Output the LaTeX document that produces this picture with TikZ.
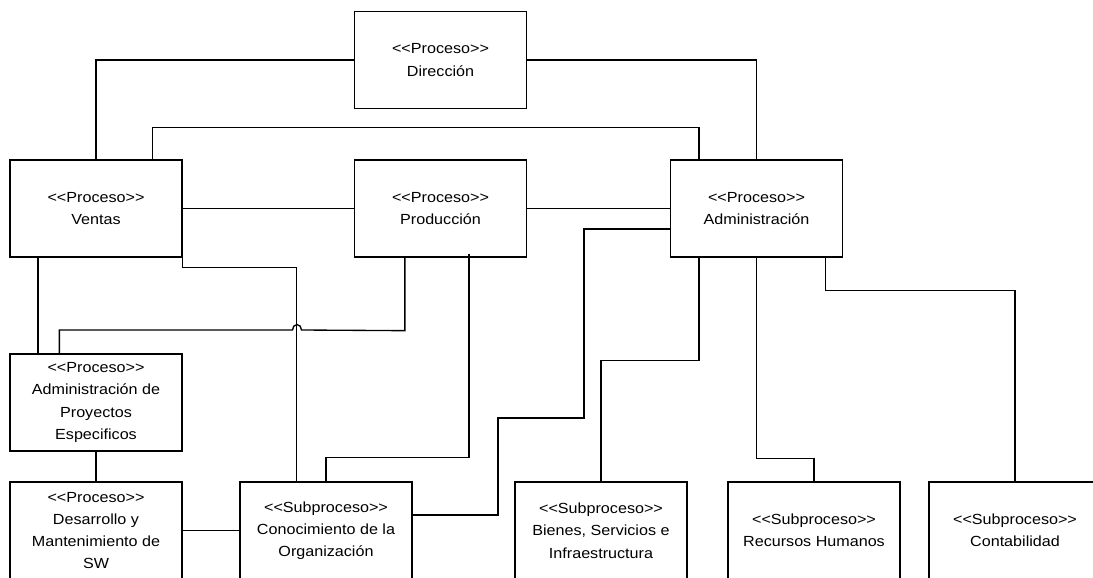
\documentclass[tikz,border=0pt]{standalone}
\usepackage{fontspec}
\newfontfamily\diagfont{Liberation Sans}[FakeStretch=1.1]
\usetikzlibrary{calc}
\newcommand\stereo[1]{\textless\textless #1\textgreater\textgreater}

\begin{document}
\begin{tikzpicture}[x=0.75pt,y=-0.75pt,
  box/.style={draw,line width=1pt,minimum width=129pt,minimum height=72.75pt,
    inner sep=0pt,align=center,font=\diagfont\fontsize{11}{16.7}\selectfont},
  link/.style={draw,line width=1pt}]
\clip (0,0) rectangle (1093,578);
\fill[white] (0,0) rectangle (1093,578);

% process boxes
\node[box] (direccion)  at (440.5,60)    {\stereo{Proceso}\\Dirección};
\node[box] (ventas)     at (96,208.5)    {\stereo{Proceso}\\Ventas};
\node[box] (produccion) at (440.5,208.5) {\stereo{Proceso}\\Producción};
\node[box] (admin)      at (756.5,208.5) {\stereo{Proceso}\\Administración};
\node[box] (ape)        at (96,402.5)    {\stereo{Proceso}\\Administración de\\Proyectos\\Especificos};
\node[box] (dms)        at (96,530.5)    {\stereo{Proceso}\\Desarrollo y\\Mantenimiento de\\SW};
% subprocess boxes
\node[box] (conoc)      at (326,530.5)   {\stereo{Subproceso}\\Conocimiento de la\\Organización};
\node[box] (bienes)     at (601,530.5)   {\stereo{Subproceso}\\Bienes, Servicios e\\Infraestructura};
\node[box] (rh)         at (814,530.5)   {\stereo{Subproceso}\\Recursos Humanos};
\node[box] (conta)      at (1015,530.5)  {\stereo{Subproceso}\\Contabilidad};

% connectors
\path[link] (ventas.north) |- (direccion.west);
\path[link] (direccion.east) -| (admin.north);
\path[link] ($(ventas.north west)+(143,0)$) |- ($(admin.north west)+(29,-32)$) -- ($(admin.north west)+(29,0)$);
\path[link] (ventas.east) -- (produccion.west);
\path[link] (produccion.east) -- (admin.west);
\path[link] ($(admin.west)+(0,20.5)$) -| (584,418) -| (498,515) -- ($(conoc.east)+(0,-15.5)$);
\path[link] ($(admin.south west)+(29,0)$) |- ($(bienes.north)+(0,-121)$) -- (bienes.north);
\path[link] (admin.south) |- ($(rh.north)+(0,-23)$) -- (rh.north);
\path[link] ($(admin.south east)+(-18,0)$) |- ($(conta.north)+(0,-191)$) -- (conta.north);
\path[link] ($(ventas.south east)+(0,-13)$) |- ($(conoc.north west)+(57,-214)$) -- ($(conoc.north west)+(57,0)$);
\path[link] ($(ventas.south west)+(28.6,0)$) -- ($(ape.north west)+(28.6,0)$);
\path[link] ($(ape.north west)+(50,0)$) |- (292.5,330)
  arc[start angle=180,end angle=360,x radius=4.5,y radius=5.5]
  -- ($(produccion.south west)+(51,73)$) -- ($(produccion.south west)+(51,0)$);
\path[link] ($(produccion.south west)+(115,-4)$) |- ($(conoc.north)+(0,-24)$) -- (conoc.north);
\path[link] (ape.south) -- (dms.north);
\path[link] (dms.east) -- (conoc.west);
\end{tikzpicture}
\end{document}
